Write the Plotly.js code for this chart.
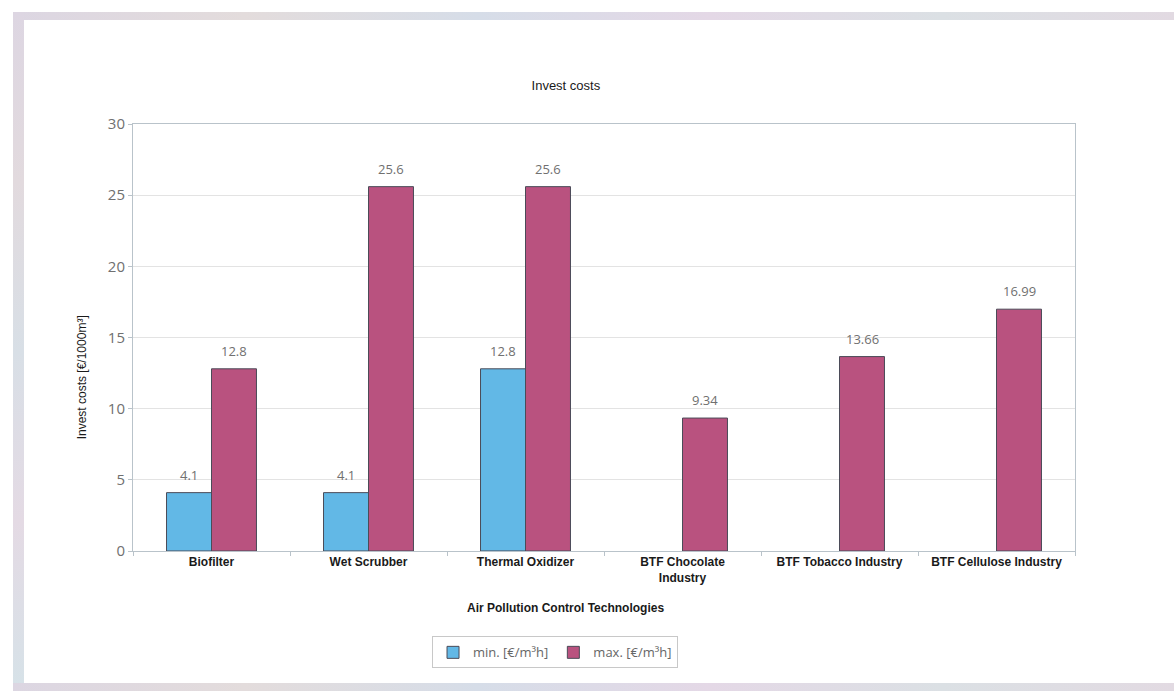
<!DOCTYPE html>
<html>
<head>
<meta charset="utf-8">
<script src="https://cdn.plot.ly/plotly-3.0.1.min.js"></script>
<style>
  html, body { margin: 0; padding: 0; background: #ffffff; }
  #wrap { position: relative; width: 1174px; height: 691px; overflow: hidden; }
  .strip { position: absolute; background: linear-gradient(90deg, #dcd6e2, #e3dcdc, #d6dde8, #e4d8e6, #dbe0e4, #e2dae2); }
  #chart { position: absolute; left: 0; top: 0; width: 1174px; height: 691px; }
</style>
</head>
<body>
<div id="wrap">
  <div class="strip" style="left:13px; top:12px; width:1161px; height:8px;"></div>
  <div class="strip" style="left:13px; top:12px; width:11px; height:679px; background: linear-gradient(180deg, #ddd6e2, #e2dade, #d8dfe6, #e4dae4, #d6e2e8);"></div>
  <div class="strip" style="left:13px; top:683px; width:1161px; height:8px;"></div>
  <div id="chart"></div>
</div>
<script>
// Investment cost ranges per air pollution control technology
const categories = [
  "Biofilter",
  "Wet Scrubber",
  "Thermal Oxidizer",
  "BTF Chocolate<br>Industry",
  "BTF Tobacco Industry",
  "BTF Cellulose Industry"
];
const minCosts = [4.1, 4.1, 12.8, null, null, null];
const maxCosts = [12.8, 25.6, 25.6, 9.34, 13.66, 16.99];
const minLabels = ["4.1", "4.1", "12.8", "", "", ""];
const maxLabels = ["12.8", "25.6", "25.6", "9.34", "13.66", "16.99"];
const seriesNames = ["min. [€/m³h]", "max. [€/m³h]"];
const yTicks = [0, 5, 10, 15, 20, 25, 30];

const blue = "#62b8e6";
const rose = "#b9527f";
const edge = "#4b4b58";

const traces = [
  {
    type: "bar", x: categories, y: minCosts, name: seriesNames[0],
    marker: { color: blue, line: { color: edge, width: 1 } },
    hoverinfo: "y"
  },
  {
    type: "bar", x: categories, y: maxCosts, name: seriesNames[1],
    marker: { color: rose, line: { color: edge, width: 1 } },
    hoverinfo: "y"
  }
];

// Value labels above each bar, offset to the left/right half of each group
const valueFont = { family: "Open Sans, DejaVu Sans, sans-serif", size: 13, color: "#707070" };
const annotations = [];
const halfBar = 22.5;
categories.forEach((c, i) => {
  if (minCosts[i] !== null) {
    annotations.push({
      x: c, y: minCosts[i], xref: "x", yref: "y", text: minLabels[i],
      showarrow: false, yanchor: "bottom", xshift: -halfBar, yshift: 7, font: valueFont
    });
  }
  annotations.push({
    x: c, y: maxCosts[i], xref: "x", yref: "y", text: maxLabels[i],
    showarrow: false, yanchor: "bottom", xshift: halfBar, yshift: 7, font: valueFont
  });
});

// Axis titles placed as annotations
annotations.push({
  text: "Air Pollution Control Technologies", xref: "paper", yref: "paper",
  x: 0.459, y: -0.134, xanchor: "center", yanchor: "middle", showarrow: false,
  font: { family: "Liberation Sans, Arial, sans-serif", size: 12, color: "#1a1a1a", weight: "bold" }
});
annotations.push({
  text: "Invest costs [€/1000m³]", xref: "paper", yref: "paper",
  x: -0.054, y: 0.407, xanchor: "center", yanchor: "middle", textangle: -90, showarrow: false,
  font: { family: "Liberation Sans, Arial, sans-serif", size: 12, color: "#1a1a1a" }
});

const layout = {
  width: 1174, height: 691,
  paper_bgcolor: "rgba(0,0,0,0)",
  plot_bgcolor: "#ffffff",
  margin: { l: 133, r: 99, t: 124, b: 140 },
  title: {
    text: "Invest costs",
    x: 0.482, xanchor: "center", y: 1 - 85 / 691, yanchor: "middle",
    font: { family: "Liberation Sans, Arial, sans-serif", size: 13, color: "#1a1a1a" }
  },
  barmode: "group",
  bargap: 0.427,
  bargroupgap: 0,
  xaxis: {
    type: "category",
    showline: true, linecolor: "#b9c3ca", linewidth: 1, mirror: true,
    ticks: "outside", tickson: "boundaries", ticklen: 4, tickcolor: "#b9c3ca",
    tickfont: { family: "Liberation Sans, Arial, sans-serif", size: 12, color: "#1a1a1a", weight: "bold" },
    showgrid: false
  },
  yaxis: {
    range: [0, 30], tickvals: yTicks,
    showline: true, linecolor: "#b9c3ca", linewidth: 1, mirror: true,
    ticks: "outside", ticklen: 4, tickcolor: "#b9c3ca",
    gridcolor: "#e3e3e3", gridwidth: 1, zeroline: false,
    tickfont: { family: "Open Sans, DejaVu Sans, sans-serif", size: 15, color: "#707070" }
  },
  showlegend: true,
  legend: {
    orientation: "h", x: 0.448, xanchor: "center", y: -0.2, yanchor: "top",
    bordercolor: "#c8c8c8", borderwidth: 1, bgcolor: "#ffffff",
    itemwidth: 30, traceorder: "normal", tracegroupgap: 0,
    font: { family: "Open Sans, DejaVu Sans, sans-serif", size: 13, color: "#666666" }
  },
  annotations: annotations
};

Plotly.newPlot("chart", traces, layout, { displayModeBar: false, staticPlot: true });
</script>
</body>
</html>
